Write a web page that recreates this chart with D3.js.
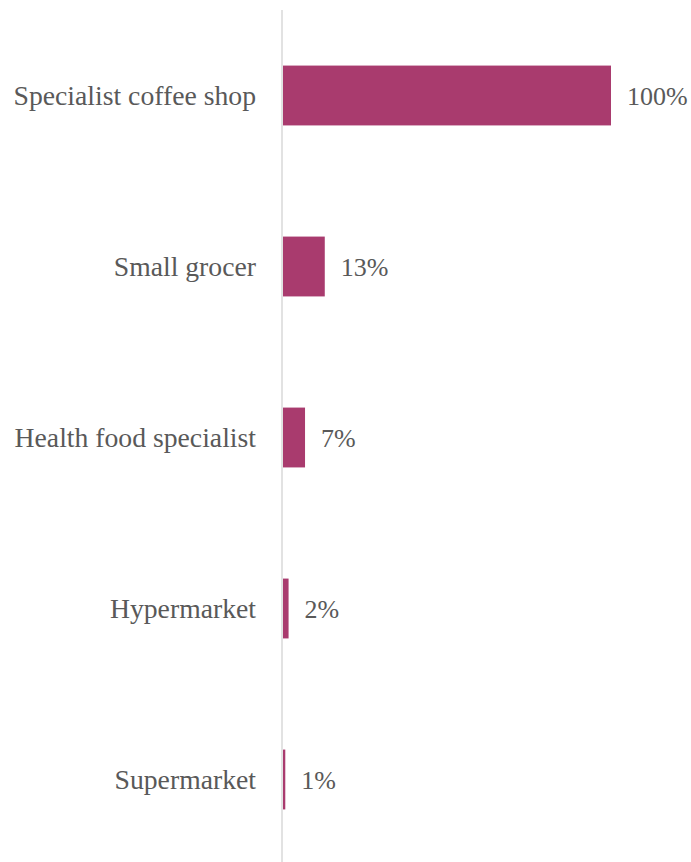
<!DOCTYPE html>
<html><head><meta charset="utf-8">
<script src="https://cdn.jsdelivr.net/npm/d3@7"></script>
<style>html,body{margin:0;padding:0;background:#fff;}</style>
</head><body>
<script>
const categories = ["Specialist coffee shop","Small grocer","Health food specialist","Hypermarket","Supermarket"];
const values = [100, 13, 7, 2, 1];
const valueLabels = ["100%","13%","7%","2%","1%"];

const W = 691, H = 862;
const svg = d3.select("body").append("svg").attr("width", W).attr("height", H);
const x0 = 282;
const x = d3.scaleLinear().domain([0, 100]).range([x0, 611]);
const y = d3.scaleBand().domain(categories).range([10, 865]).paddingInner(0.65).paddingOuter(0.325);

svg.append("line").attr("x1", x0).attr("x2", x0).attr("y1", 10).attr("y2", H)
  .attr("stroke", "#e2e2e2").attr("stroke-width", 2);

svg.selectAll("rect.bar").data(categories).join("rect").attr("class","bar")
  .attr("x", x0 + 1).attr("y", d => y(d))
  .attr("width", (d,i) => x(values[i]) - x0 - 1).attr("height", y.bandwidth())
  .attr("fill", "#a93b6e");

const font = "'Liberation Serif', 'DejaVu Serif', serif";
svg.selectAll("text.cat").data(categories).join("text").attr("class","cat")
  .attr("x", 256).attr("y", d => y(d) + y.bandwidth()/2).attr("dy", "0.35em")
  .attr("text-anchor", "end").attr("font-family", font).attr("font-size", 27.7)
  .attr("fill", "#595959").text(d => d);

svg.selectAll("text.val").data(categories).join("text").attr("class","val")
  .attr("x", (d,i) => x(values[i]) + 16).attr("y", d => y(d) + y.bandwidth()/2).attr("dy", "0.35em")
  .attr("font-family", font).attr("font-size", 26)
  .attr("fill", "#595959").text((d,i) => valueLabels[i]);
</script>
</body></html>
